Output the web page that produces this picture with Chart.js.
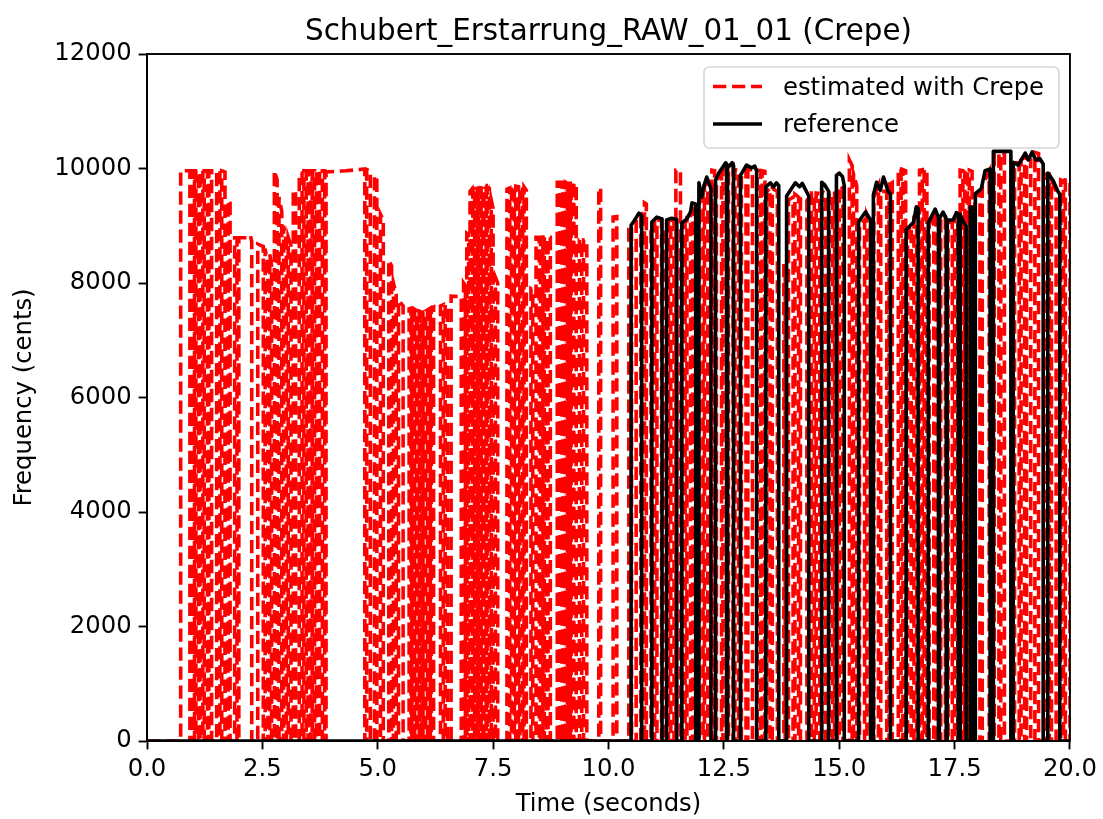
<!DOCTYPE html>
<html><head><meta charset="utf-8">
<script src="https://cdn.jsdelivr.net/npm/chart.js@4.4.1/dist/chart.umd.min.js"></script>
<style>html,body{margin:0;padding:0;background:#fff;}#wrap{width:1103px;height:819px;}</style>
</head><body><div id="wrap"><canvas id="c" width="1103" height="819"></canvas></div>
<script>
const chartTitle = "Schubert_Erstarrung_RAW_01_01 (Crepe)";
const xLabel = "Time (seconds)";
const yLabel = "Frequency (cents)";
const seriesNames = ["estimated with Crepe", "reference"];
const xTicks = [0, 2.5, 5, 7.5, 10, 12.5, 15, 17.5, 20];
const yTicks = [0, 2000, 4000, 6000, 8000, 10000, 12000];

// voiced runs: [t, cents, t, cents, ...]; unvoiced frames are 0 cents
const estSegments = [
[0.73,9960,0.93,9960],[0.99,9960,1.03,9960],[1.06,9960,1.12,9960],[1.15,9960,1.21,9960],
[1.24,9960,1.31,9960],[1.34,9960,1.40,9960],[1.51,9960,1.58,9960],[1.62,9960,1.69,9940],
[1.76,9450,1.80,9400],[1.90,8790,1.95,8790],[1.99,8790,2.20,8790,2.24,8830,2.27,8720],
[2.40,8680,2.52,8640],[2.56,8600,2.62,8300],[2.66,8500,2.70,8300],[2.76,9960,2.82,9800],
[2.86,9500,2.92,9250],[2.96,9000,3.02,8700],[3.06,8800,3.12,8650],[3.17,9620,3.22,9600],
[3.30,9900,3.36,9920],[3.40,9960,3.45,9960],[3.49,9960,3.55,9960],[3.58,9960,3.63,9960],
[3.67,9960,3.74,9960],[3.80,9960,3.85,9960],[3.88,9940,4.30,9960,4.72,9990],[4.76,9980,4.84,9960],
[4.93,9880,4.98,9800],[5.06,9200,5.12,9100],[5.24,8400,5.30,8300],[5.34,8000,5.40,7800],
[5.45,7700,5.55,7600],[5.68,7550,5.72,7560],[5.74,7560,5.78,7540],[5.80,7540,5.84,7520],
[5.86,7520,5.90,7500],[5.92,7500,5.96,7480],[5.98,7490,6.02,7500],[6.04,7510,6.08,7530],
[6.10,7540,6.14,7560],[6.16,7560,6.21,7580],[6.36,7600,6.42,7620],[6.46,7620,6.51,7600],
[6.59,7770,6.81,7760],[6.86,8000,6.90,7950],[6.93,8870,6.97,8850],[7.00,9600,7.04,9640],
[7.06,9650,7.10,9650],[7.12,9660,7.16,9660],[7.18,9660,7.22,9660],[7.24,9660,7.28,9650],
[7.30,9650,7.35,9680],[7.37,9680,7.42,9650],[7.46,9450,7.50,9300],[7.55,8100,7.60,8000],
[7.80,9640,7.86,9660],[7.90,9680,7.96,9680],[7.99,9690,8.05,9680],[8.08,9680,8.14,9670],
[8.17,9680,8.22,9620],[8.32,7900,8.36,7880],[8.43,8800,8.50,8800],[8.53,8800,8.58,8800],
[8.61,8800,8.66,8790],[8.69,8800,8.74,8800],[8.89,9760,8.93,9760],[8.95,9760,8.99,9760],
[9.01,9760,9.05,9760],[9.07,9760,9.11,9740],[9.13,9740,9.17,9740],[9.19,9740,9.23,9740],
[9.25,9740,9.30,9720],[9.37,8750,9.42,8750],[9.46,8750,9.53,8740],[9.79,9660,9.83,9650],
[10.10,9150,10.18,9160],[10.44,8950,10.50,9000],[10.60,9100,10.70,9180],[10.78,9400,10.82,9380],
[10.92,9000,11.00,9050],[11.05,9100,11.15,9100],[11.22,9000,11.30,9050],[11.35,9100,11.42,9080],
[11.46,9970,11.56,9960],[11.60,9000,11.66,9050],[11.70,9150,11.78,9200],[11.82,9300,11.90,9300],
[11.97,9600,12.05,9650],[12.08,9700,12.15,9750],[12.24,9970,12.30,9960],[12.34,9800,12.45,9900],
[12.48,9950,12.56,10000],[12.60,9980,12.70,10050],[12.74,9980,12.82,9970],[12.88,9900,12.98,10000],
[13.02,9980,13.12,9980],[13.22,9970,13.30,9960],[13.33,9960,13.39,9950],[13.43,9600,13.50,9650],
[13.55,9650,13.66,9600],[13.80,8300,13.83,8300],[13.90,9450,14.00,9500],[14.04,9550,14.12,9500],
[14.16,9500,14.30,9450],[14.40,9570,14.46,9560],[14.50,9570,14.58,9560],[14.62,9600,14.70,9570],
[14.78,9570,14.86,9560],[14.90,9570,14.96,9580],[15.00,9700,15.08,9650],[15.22,10150,15.28,10050],
[15.31,9900,15.38,9700],[15.44,9000,15.55,9100],[15.60,9200,15.68,9050],[15.75,9500,15.85,9700],
[15.90,9600,16.03,9600],[16.08,9800,16.15,9780],[16.28,10000,16.34,9990],[16.38,9980,16.44,9960],
[16.48,8900,16.56,9000],[16.62,9250,16.68,9300],[16.74,9970,16.80,9980],[16.84,9980,16.90,9970],
[16.95,9000,17.05,9250],[17.10,9150,17.16,9100],[17.20,9150,17.30,9150],[17.36,9050,17.45,9080],
[17.50,9150,17.57,9200],[17.62,9970,17.68,9960],[17.72,9980,17.78,9960],[17.82,9970,17.88,9950],
[17.94,9500,18.05,9600],[18.10,9700,18.25,9950],[18.36,10270,18.46,10270],[18.50,10270,18.58,10260],
[18.80,10100,18.90,10100],[18.94,10150,19.02,10200],[19.06,10160,19.15,10150],[19.24,10280,19.32,10260],
[19.45,9900,19.55,9900],[19.60,9800,19.70,9600],[19.80,9800,19.86,9780],[19.90,9800,20.00,9790]
];

const refSegments = [
[10.49,9010,10.55,9080,10.66,9220,10.72,9180],
[10.94,9065,11.05,9150,11.16,9120],
[11.26,9100,11.37,9130,11.48,9110],
[11.59,9050,11.70,9120,11.78,9250,11.81,9400,11.89,9380],
[11.96,9750,12.02,9500,12.07,9700,12.13,9850,12.22,9650],
[12.32,9800,12.39,9920,12.54,10100,12.56,10080],
[12.58,10010,12.68,10100,12.71,10050],
[12.86,9880,12.99,10060,13.10,10010,13.17,10040,13.21,9960],
[13.41,9680,13.51,9750,13.58,9680,13.64,9750,13.69,9700],
[13.86,9520,14.05,9750,14.14,9680,14.20,9740,14.34,9520],
[14.62,9760,14.68,9720,14.77,9600],
[14.94,9880,15.00,9920,15.07,9860,15.11,9700],
[15.42,9070,15.57,9240,15.68,9100],
[15.74,9540,15.81,9760,15.89,9620,15.96,9850,16.06,9600,16.11,9560],
[16.45,8930,16.61,9060,16.67,9330,16.71,9300],
[16.93,9050,17.08,9290,17.15,9150],
[17.17,9120,17.25,9240,17.32,9120],
[17.34,9100,17.47,9100,17.54,9230,17.58,9200],
[17.62,9200,17.70,9050,17.75,9000],
[17.84,9330,17.90,9300],
[17.95,9560,18.08,9650,18.16,9960,18.27,9990],
[18.34,10300,18.72,10300],
[18.77,10110,18.88,10060,19.03,10270,19.10,10150,19.18,10290,19.26,10150,19.35,10170,19.42,10080],
[19.52,9920,19.63,9800,19.74,9600,19.78,9550]
];

function buildSeries(segs, endT){
  const pts = [{x:0, y:0}];
  for (const s of segs){
    pts.push({x:s[0], y:0});
    for (let i=0;i<s.length;i+=2) pts.push({x:s[i], y:s[i+1]});
    pts.push({x:s[s.length-2], y:0});
  }
  if (endT !== undefined) pts.push({x:endT, y:0});
  return pts;
}

const FONT = "'DejaVu Sans', sans-serif";
const FS = 24.3;
const L = 147, R = 1072, T = 54, B = 741;
const DASH = [13.3, 5.7];

const decor = {
  id:'decor',
  afterDraw(chart){
    const ctx = chart.ctx, a = chart.chartArea;
    ctx.save();
    ctx.strokeStyle = '#000'; ctx.lineWidth = 1.9;
    ctx.strokeRect(a.left, a.top, a.right-a.left, a.bottom-a.top);
    ctx.fillStyle = '#000';
    ctx.textAlign = 'center'; ctx.textBaseline = 'alphabetic';
    ctx.font = "29.4px " + FONT;
    ctx.fillText(chartTitle, (a.left+a.right)/2, 40);
    ctx.font = FS + "px " + FONT;
    ctx.fillText(xLabel, (a.left+a.right)/2, 811);
    ctx.save();
    ctx.translate(31, (a.top+a.bottom)/2);
    ctx.rotate(-Math.PI/2);
    ctx.fillText(yLabel, 0, 0);
    ctx.restore();
    // legend
    const lx=704, ly=67, lw=355, lh=81;
    ctx.beginPath();
    ctx.roundRect(lx, ly, lw, lh, 5);
    ctx.fillStyle = 'rgba(255,255,255,0.8)'; ctx.fill();
    ctx.strokeStyle = '#d6d6d6'; ctx.lineWidth = 1.6; ctx.stroke();
    ctx.lineWidth = 3.6;
    ctx.strokeStyle = '#ff0000'; ctx.setLineDash(DASH);
    ctx.beginPath(); ctx.moveTo(713, 86.5); ctx.lineTo(762, 86.5); ctx.stroke();
    ctx.setLineDash([]);
    ctx.strokeStyle = '#000';
    ctx.beginPath(); ctx.moveTo(713, 124); ctx.lineTo(762, 124); ctx.stroke();
    ctx.fillStyle = '#000'; ctx.textAlign = 'left'; ctx.textBaseline = 'alphabetic';
    ctx.font = FS + "px " + FONT;
    ctx.fillText(seriesNames[0], 783, 95);
    ctx.fillText(seriesNames[1], 783, 132);
    ctx.restore();
  }
};

new Chart(document.getElementById('c'), {
  type:'line',
  data:{ datasets:[
    { label: seriesNames[1], data: buildSeries(refSegments, 20), borderColor:'#000000', borderWidth:3.6,
      pointRadius:0, tension:0, fill:false, borderJoinStyle:'round', order:0 },
    { label: seriesNames[0], data: buildSeries(estSegments), borderColor:'#ff0000', borderWidth:3.6,
      borderDash: DASH, pointRadius:0, tension:0, fill:false, order:1 }
  ]},
  options:{
    responsive:false, animation:false, devicePixelRatio:1,
    layout:{ padding:{ left:0, right:1103-R, top:T, bottom:0 } },
    plugins:{ legend:{display:false}, title:{display:false}, tooltip:{enabled:false} },
    scales:{
      x:{ type:'linear', min:0, max:20,
        afterBuildTicks(s){ s.ticks = xTicks.map(v=>({value:v})); },
        afterFit(s){ s.height = 819 - B; },
        grid:{ display:true, drawOnChartArea:false, tickLength:8.4, tickWidth:1.9, tickColor:'#000' },
        border:{ display:true, color:'#000', width:1.9 },
        ticks:{ color:'#000', font:{ family:FONT, size:FS }, padding:6, maxRotation:0,
          callback:v=>Number(v).toFixed(1) } },
      y:{ type:'linear', min:0, max:12000,
        afterBuildTicks(s){ s.ticks = yTicks.map(v=>({value:v})); },
        afterFit(s){ s.width = L; },
        grid:{ display:true, drawOnChartArea:false, tickLength:8.4, tickWidth:1.9, tickColor:'#000' },
        border:{ display:true, color:'#000', width:1.9 },
        ticks:{ color:'#000', font:{ family:FONT, size:FS }, padding:7,
          callback:v=>String(v) } }
    }
  },
  plugins:[decor]
});
</script></body></html>
